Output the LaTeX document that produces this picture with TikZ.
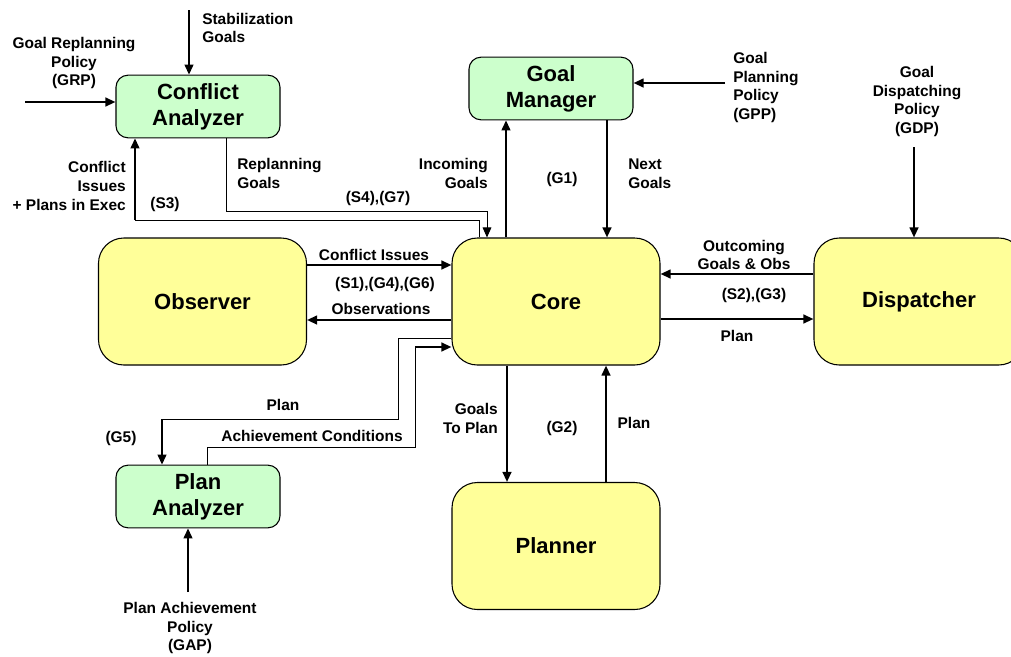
\documentclass[tikz,border=0pt]{standalone}
\usepackage{fontspec}
\setmainfont{Liberation Sans}
\usetikzlibrary{arrows.meta}
\definecolor{boxyellow}{HTML}{FFFF99}
\definecolor{boxgreen}{HTML}{CCFFCC}
\begin{document}
\begin{tikzpicture}[x=0.75pt,y=-0.75pt,
  bigbox/.style={draw=black,line width=0.8pt,fill=boxyellow,rounded corners=19pt,
    minimum width=156pt,minimum height=95.25pt,inner sep=0pt,
    font=\bfseries\fontsize{16.5}{19.5}\selectfont,align=center},
  smallbox/.style={draw=black,line width=0.8pt,fill=boxgreen,rounded corners=9pt,
    minimum width=123pt,minimum height=47pt,inner sep=0pt,
    font=\bfseries\fontsize{16.5}{19.5}\selectfont,align=center},
  lbl/.style={font=\bfseries\fontsize{11.6}{14}\selectfont,inner sep=0pt},
  tharrow/.style={line width=1.5pt,-{Triangle[length=7.5pt,width=6.5pt]}},
  thline/.style={line width=1.5pt},
  thinarrow/.style={line width=0.75pt,-{Triangle[length=7.5pt,width=6.5pt]}},
  thinline/.style={line width=0.75pt}
]
\useasboundingbox (0,0) rectangle (1011,657);

% boxes
\node[bigbox] (obs) at (202.5,301.5) {Observer};
\node[bigbox] (core) at (556,301.5) {Core};
\node[bigbox,minimum width=157.5pt] (disp) at (919,301.5) {Dispatcher};
\node[bigbox] (plan) at (556,546) {Planner};
\node[smallbox] (ca) at (198,106.5) {Conflict\\Analyzer};
\node[smallbox] (gm) at (551,88.5) {Goal\\Manager};
\node[smallbox] (pa) at (198,496.5) {Plan\\Analyzer};

% helper x positions
\coordinate (x135) at (135,0);
\coordinate (x162) at (162,0);
\coordinate (x188) at (188,0);
\coordinate (x189) at (189,0);
\coordinate (x207) at (207,0);
\coordinate (x226) at (226,0);
\coordinate (x479) at (479,0);
\coordinate (x487) at (487,0);
\coordinate (x506) at (506,0);
\coordinate (x507) at (507,0);
\coordinate (x606) at (606,0);
\coordinate (x607) at (607,0);
\coordinate (x914) at (914,0);
\coordinate (y83) at (0,83);
\coordinate (y102) at (0,102);
\coordinate (y265) at (0,265);
\coordinate (y274) at (0,274);
\coordinate (y319) at (0,319);
\coordinate (y320) at (0,320);
\coordinate (y338) at (0,338);
\coordinate (y347) at (0,347);

% free ends
\coordinate (stabin) at (189,10);
\coordinate (grpin) at (25,102);
\coordinate (gppin) at (725,83);
\coordinate (gdpin) at (914,147);
\coordinate (gapin) at (188,592);

% external inputs
\draw[tharrow] (stabin) -- (ca.north -| x189);
\draw[tharrow] (grpin) -- (ca.west |- y102);
\draw[tharrow] (gppin) -- (gm.east |- y83);
\draw[tharrow] (gdpin) -- (disp.north -| x914);
\draw[tharrow] (gapin) -- (pa.south -| x188);

% Core <-> Goal Manager
\draw[tharrow] (core.north -| x506) -- (gm.south -| x506);
\draw[tharrow] (gm.south -| x607) -- (core.north -| x607);

% Core <-> Planner
\draw[tharrow] (core.south -| x507) -- (plan.north -| x507);
\draw[tharrow] (plan.north -| x606) -- (core.south -| x606);

% Core <-> Observer
\draw[tharrow] (obs.east |- y265) -- (core.west |- y265);
\draw[tharrow] (core.west |- y320) -- (obs.east |- y320);

% Core <-> Dispatcher
\draw[tharrow] (disp.west |- y274) -- (core.east |- y274);
\draw[tharrow] (core.east |- y319) -- (disp.west |- y319);

% Conflict issues + plans in exec (S3)
\coordinate (s3a) at (479,220);
\coordinate (s3b) at (135,220);
\draw[thinline] (core.north -| x479) -- (s3a) -- (s3b);
\draw[tharrow] (s3b) -- (ca.south -| x135);

% Replanning goals (S4),(G7)
\coordinate (rga) at (226,211);
\coordinate (rgb) at (487,211);
\draw[thinarrow] (ca.south -| x226) -- (rga) -- (rgb) -- (core.north -| x487);

% Plan to plan analyzer (G5)
\coordinate (pla) at (398,338);
\coordinate (plb) at (398,419);
\coordinate (plc) at (162,419);
\draw[thinline] (core.west |- y338) -- (pla) -- (plb) -- (plc);
\draw[tharrow] (plc) -- (pa.north -| x162);

% Achievement conditions
\coordinate (aca) at (207,447);
\coordinate (acb) at (415,447);
\coordinate (acc) at (415,347);
\draw[thinline] (pa.north -| x207) -- (aca) -- (acb) -- (acc);
\draw[tharrow] (acc) -- (core.west |- y347);

% labels
\node[lbl,anchor=west,align=left] (lstab) at (202,28) {Stabilization\\Goals};
\node[lbl,align=center] (lgrp) at (74,63) {Goal Replanning\\Policy\\(GRP)};
\node[lbl,anchor=east,align=right] (lci) at (126,186) {Conflict\\Issues\\+ Plans in Exec};
\node[lbl] (ls3) at (165,204) {(S3)};
\node[lbl,anchor=west,align=left] (lrg) at (237,173.5) {Replanning\\Goals};
\node[lbl] (ls4) at (378,198) {(S4),(G7)};
\node[lbl,anchor=east,align=right] (lig) at (488,173.5) {Incoming\\Goals};
\node[lbl] (lg1) at (562,179) {(G1)};
\node[lbl,anchor=west,align=left] (lng) at (628,173.5) {Next\\Goals};
\node[lbl,anchor=west,align=left] (lgpp) at (733,87.5) {Goal\\Planning\\Policy\\(GPP)};
\node[lbl,align=center] (lgdp) at (917,101.5) {Goal\\Dispatching\\Policy\\(GDP)};
\node[lbl,align=center] (log) at (744,255) {Outcoming\\Goals \& Obs};
\node[lbl] (ls2) at (754,295) {(S2),(G3)};
\node[lbl] (lpd) at (737,336) {Plan};
\node[lbl] (lcis) at (374,255) {Conflict Issues};
\node[lbl] (ls1) at (385,284) {(S1),(G4),(G6)};
\node[lbl] (lobs) at (381,309) {Observations};
\node[lbl] (lpa) at (283,405) {Plan};
\node[lbl] (lg5) at (121,438) {(G5)};
\node[lbl] (lac) at (312,436) {Achievement Conditions};
\node[lbl,anchor=east,align=right] (lgtp) at (498,418.5) {Goals\\To Plan};
\node[lbl] (lg2) at (562,428) {(G2)};
\node[lbl] (lpp) at (634,423) {Plan};
\node[lbl,align=center] (lgap) at (190,628) {Plan Achievement\\Policy\\(GAP)};
\end{tikzpicture}
\end{document}
